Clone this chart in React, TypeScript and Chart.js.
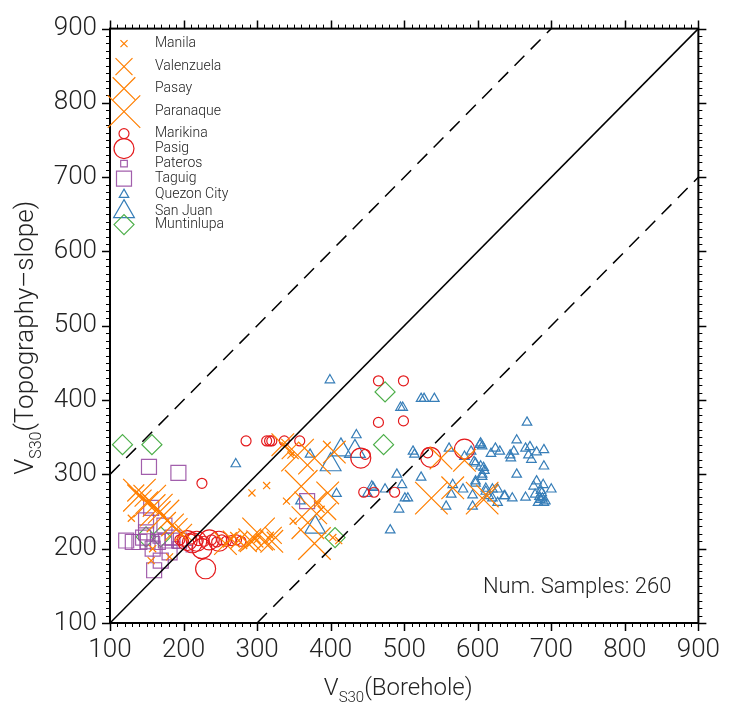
import React, { useEffect, useRef } from 'react';
import { Chart, registerables } from 'chart.js';
import { drawPoint } from 'chart.js/helpers';

Chart.register(...registerables);

// ---------------- data ----------------
const xTicks = [100, 200, 300, 400, 500, 600, 700, 800, 900];
const yTicks = [100, 200, 300, 400, 500, 600, 700, 800, 900];

const manila: [number, number][] = [
  [346, 326], [313, 285], [293, 275], [340, 264], [349, 237], [411, 211], [387, 253],
  [129, 241], [181, 189], [156, 184], [403, 215], [382, 260], [158, 200], [300, 212], [318, 218],
];
const valenzuela: [number, number][] = [
  [178, 238], [145, 268], [275, 211], [288, 207], [297, 213], [310, 209], [322, 218],
  [265, 213], [345, 332], [396, 250], [135, 275], [200, 222],
];
const pasay: [number, number][] = [
  [167, 249], [185, 232], [160, 258], [396, 275], [613, 271], [566, 282], [550, 322],
  [582, 319], [257, 207], [290, 212], [320, 210], [405, 330], [335, 340], [150, 262], [190, 226],
];
const paranaque: [number, number][] = [
  [154, 264], [172, 244], [378, 322], [360, 284], [373, 255], [369, 235], [378, 207],
  [537, 268], [606, 268], [302, 220], [355, 326], [140, 272], [163, 252],
];
const marikina: [number, number][] = [
  [285, 345], [313, 345], [317, 345], [320, 345], [337, 345], [358, 345], [465, 426],
  [499, 426], [465, 370], [499, 372], [447, 327], [445, 276], [459, 276], [487, 276],
  [532, 329], [225, 288], [195, 212], [200, 210], [210, 213], [220, 211], [228, 210],
  [238, 212], [245, 209], [252, 212], [258, 210], [265, 211], [272, 212], [278, 210],
];
const pasig: [number, number][] = [
  [230, 173], [225, 200], [441, 322], [536, 323], [582, 334], [205, 211], [218, 210],
  [235, 212], [248, 210], [212, 208],
];
const pateros: [number, number][] = [[190, 205], [208, 200], [163, 212]];
const taguig: [number, number][] = [
  [153, 310], [193, 302], [156, 255], [149, 238], [174, 231], [122, 211], [131, 209],
  [140, 209], [151, 210], [165, 209], [176, 211], [185, 215], [194, 211], [158, 200],
  [181, 195], [169, 184], [160, 171], [149, 222], [368, 264], [145, 215],
];
const quezonCity: [number, number][] = [
  [399, 427], [523, 402], [527, 402], [541, 402], [495, 390], [498, 390], [435, 353],
  [372, 327], [512, 331], [514, 327], [561, 335], [591, 331], [604, 342], [624, 335],
  [644, 326], [582, 324], [595, 317], [608, 309], [606, 300], [490, 300], [523, 296],
  [497, 286], [566, 286], [580, 280], [597, 288], [458, 282], [474, 280], [450, 274],
  [408, 274], [501, 268], [505, 268], [564, 273], [593, 272], [611, 277], [620, 268],
  [627, 262], [636, 271], [647, 268], [493, 253], [557, 257], [593, 257], [481, 225],
  [359, 264], [271, 314], [456, 284],
  [667, 370], [653, 346], [603, 340], [606, 338], [630, 331], [618, 328], [649, 331],
  [665, 335], [671, 337], [680, 330], [690, 333], [645, 322], [669, 326], [673, 320],
  [690, 311], [597, 315], [604, 311], [609, 305], [653, 300], [606, 297], [597, 291],
  [680, 291], [689, 286], [676, 284], [700, 280], [611, 281], [620, 280], [627, 280],
  [637, 271], [665, 269], [678, 273], [687, 275], [685, 266], [692, 264], [682, 262],
  [615, 271], [684, 270], [688, 268], [690, 262], [686, 278],
];
const sanJuan: [number, number][] = [[414, 333], [433, 331], [400, 313], [379, 229]];
const muntinlupa: [number, number][] = [
  [117, 340], [157, 340], [149, 216], [169, 216], [406, 215], [474, 411], [472, 340],
];

const oneToOne: [number, number][] = [[100, 100], [900, 900]];
const upperBound: [number, number][] = [[100, 300], [700, 900]];
const lowerBound: [number, number][] = [[300, 100], [900, 700]];
const sampleCount = 260;

// ---------------- styles ----------------
const ORANGE = '#ff7f00';
const RED = '#e41a1c';
const PURPLE = 'rgba(152,78,163,0.9)';
const BLUE = '#377eb8';
const GREEN = '#4daf4a';
const FONT = 'Roboto, "Liberation Sans", Arial, sans-serif';
const WEIGHT = '300';
const TEXT = '#222';

type Series = { label: string; data: [number, number][]; style: string; r: number; color: string; row: number };
const SERIES: Series[] = [
  { label: 'Manila', data: manila, style: 'crossRot', r: 5, color: ORANGE, row: 15 },
  { label: 'Valenzuela', data: valenzuela, style: 'crossRot', r: 12, color: ORANGE, row: 38 },
  { label: 'Pasay', data: pasay, style: 'crossRot', r: 16, color: ORANGE, row: 60 },
  { label: 'Paranaque', data: paranaque, style: 'crossRot', r: 23, color: ORANGE, row: 83 },
  { label: 'Marikina', data: marikina, style: 'circle', r: 5, color: RED, row: 105 },
  { label: 'Pasig', data: pasig, style: 'circle', r: 10, color: RED, row: 120 },
  { label: 'Pateros', data: pateros, style: 'rect', r: 4.7, color: PURPLE, row: 135 },
  { label: 'Taguig', data: taguig, style: 'rect', r: 10.6, color: PURPLE, row: 150 },
  { label: 'Quezon City', data: quezonCity, style: 'triangle', r: 5.5, color: BLUE, row: 166 },
  { label: 'San Juan', data: sanJuan, style: 'triangle', r: 12, color: BLUE, row: 183 },
  { label: 'Muntinlupa', data: muntinlupa, style: 'rectRot', r: 10, color: GREEN, row: 196 },
];

const toXY = (arr: [number, number][]) => arr.map(([x, y]) => ({ x, y }));

function drawTitle(ctx: CanvasRenderingContext2D, cx: number, cy: number, rotate: boolean, rest: string, size: number) {
  const big = `${WEIGHT} ${size}px ${FONT}`;
  const small = `${WEIGHT} ${Math.round(size * 0.63)}px ${FONT}`;
  ctx.font = big;
  const wV = ctx.measureText('V').width;
  const wR = ctx.measureText(rest).width;
  ctx.font = small;
  const wS = ctx.measureText('S30').width;
  const total = wV + wS + wR;
  ctx.save();
  ctx.translate(cx, cy);
  if (rotate) ctx.rotate(-Math.PI / 2);
  ctx.fillStyle = TEXT;
  ctx.textBaseline = 'alphabetic';
  ctx.textAlign = 'left';
  let x = -total / 2;
  ctx.font = big;
  ctx.fillText('V', x, 0);
  x += wV;
  ctx.font = small;
  ctx.fillText('S30', x, Math.round(size * 0.3));
  x += wS;
  ctx.font = big;
  ctx.fillText(rest, x, 0);
  ctx.restore();
}

const decorPlugin = {
  id: 'decor',
  afterDraw(chart: any) {
    const { ctx, chartArea: a, scales } = chart;
    const xs = scales.x;
    const ys = scales.y;
    ctx.save();
    ctx.strokeStyle = '#000';
    ctx.lineWidth = 2;
    ctx.strokeRect(a.left, a.top, a.right - a.left, a.bottom - a.top);
    for (let v = 100; v <= 900; v += 10) {
      const major = v % 100 === 0;
      const len = major ? 8 : 4;
      ctx.lineWidth = major ? 1.5 : 1;
      const px = Math.round(xs.getPixelForValue(v)) + 0.5;
      const py = Math.round(ys.getPixelForValue(v)) + 0.5;
      ctx.beginPath();
      ctx.moveTo(px, a.bottom); ctx.lineTo(px, a.bottom + len);
      ctx.moveTo(px, a.top); ctx.lineTo(px, a.top - len);
      ctx.moveTo(a.left, py); ctx.lineTo(a.left - len, py);
      ctx.moveTo(a.right, py); ctx.lineTo(a.right + len, py);
      ctx.stroke();
    }
    ctx.textBaseline = 'middle';
    ctx.textAlign = 'left';
    ctx.font = `${WEIGHT} 14px ${FONT}`;
    for (const s of SERIES) {
      const y = a.top + s.row;
      ctx.strokeStyle = s.color;
      ctx.fillStyle = 'rgba(0,0,0,0)';
      ctx.lineWidth = 1.2;
      drawPoint(ctx, { pointStyle: s.style as any, radius: s.r, rotation: 0, borderWidth: 1.2 }, a.left + 14, y);
      ctx.fillStyle = TEXT;
      ctx.fillText(s.label, a.left + 45, y);
    }
    ctx.font = `${WEIGHT} 22px ${FONT}`;
    ctx.textAlign = 'right';
    ctx.fillStyle = TEXT;
    ctx.fillText(`Num. Samples: ${sampleCount}`, a.right - 27, a.bottom - 36);
    ctx.restore();
    drawTitle(ctx, (a.left + a.right) / 2 - 6, 695, false, '(Borehole)', 24);
    drawTitle(ctx, 33, (a.top + a.bottom) / 2 + 12, true, '(Topography\u2013slope)', 26);
  },
};

export default function App() {
  const ref = useRef<HTMLCanvasElement>(null);
  useEffect(() => {
    if (!ref.current) return;
    const lineDs = (data: [number, number][], dash: number[]) => ({
      type: 'line' as const,
      data: toXY(data),
      borderColor: '#000',
      borderWidth: 1.5,
      borderDash: dash,
      pointRadius: 0,
      fill: false,
      order: -1,
    });
    const chart = new Chart(ref.current, {
      type: 'scatter',
      data: {
        datasets: [
          lineDs(oneToOne, []),
          lineDs(upperBound, [14, 9]),
          lineDs(lowerBound, [14, 9]),
          ...SERIES.map((s) => ({
            type: 'scatter' as const,
            label: s.label,
            data: toXY(s.data),
            pointStyle: s.style as any,
            pointRadius: s.r,
            pointBorderColor: s.color,
            pointBackgroundColor: 'rgba(0,0,0,0)',
            pointBorderWidth: 1.2,
            borderColor: s.color,
            backgroundColor: 'rgba(0,0,0,0)',
            order: 1,
          })),
        ] as any,
      },
      options: {
        responsive: false,
        animation: false,
        layout: { padding: { left: 0, top: 22, right: 27, bottom: 0 } },
        plugins: { legend: { display: false }, tooltip: { enabled: false } },
        scales: {
          x: {
            type: 'linear',
            min: 100,
            max: 900,
            afterBuildTicks: (scale: any) => { scale.ticks = xTicks.map((v) => ({ value: v })); },
            afterFit: (scale: any) => { scale.height = 83; },
            grid: { display: false, drawTicks: false },
            border: { display: false },
            ticks: { font: { family: FONT, size: 26, weight: WEIGHT as any }, color: TEXT, padding: 12, maxRotation: 0 },
          },
          y: {
            type: 'linear',
            min: 100,
            max: 900,
            afterBuildTicks: (scale: any) => { scale.ticks = yTicks.map((v) => ({ value: v })); },
            afterFit: (scale: any) => { scale.width = 110; },
            grid: { display: false, drawTicks: false },
            border: { display: false },
            ticks: { font: { family: FONT, size: 26, weight: WEIGHT as any }, color: TEXT, padding: 13 },
          },
        },
      },
      plugins: [decorPlugin],
    });
    return () => chart.destroy();
  }, []);
  return (
    <div style={{ position: 'fixed', left: 0, top: 0, width: 732, height: 706, background: '#fff' }}>
      <canvas ref={ref} width={732} height={706} style={{ width: 732, height: 706 }} />
    </div>
  );
}
